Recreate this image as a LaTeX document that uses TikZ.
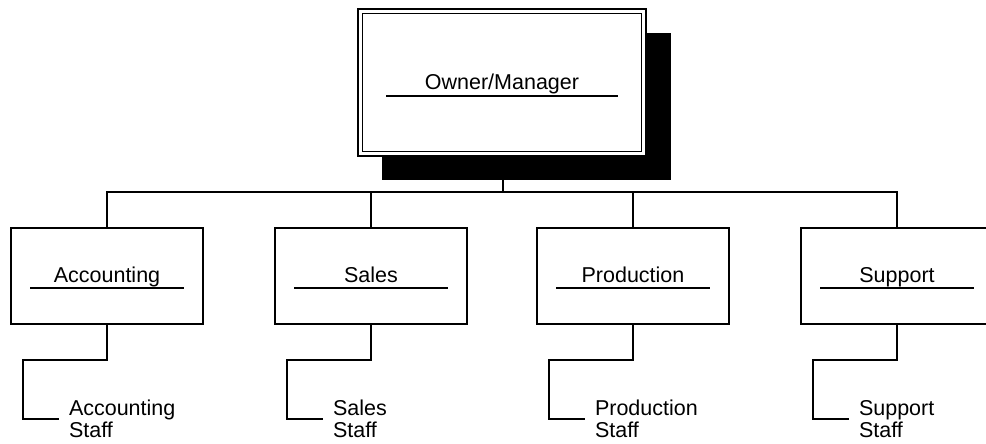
\documentclass[tikz,border=0pt]{standalone}
\usepackage{fontspec}
\setmainfont{Liberation Sans}
\begin{document}
\begin{tikzpicture}[x=1pt,y=-1pt,
  every node/.style={inner sep=0pt,outer sep=0pt},
  wire/.style={line width=1.4pt,line join=miter},
  deptbox/.style={draw,line width=1.4pt,minimum width=192pt,minimum height=96pt},
  label/.style={font=\fontsize{21.5}{22}\selectfont,anchor=base},
  stafftext/.style={font=\fontsize{21.5}{21.5}\selectfont,anchor=base west,align=left}]
\useasboundingbox (0,0) rectangle (986,444);

% Owner/Manager: shadow, double frame, caption
\node[fill=black,minimum width=289pt,minimum height=147pt] (shadow) at (526.5,106.5) {};
\node[fill=white,draw,line width=1.4pt,minimum width=288pt,minimum height=147pt] (owner) at (502,82.5) {};
\draw[line width=1.4pt] ([xshift=4.5pt,yshift=-4.5pt]owner.north west) rectangle ([xshift=-4.5pt,yshift=4.5pt]owner.south east);
\node[label] (ownertxt) at (502,89) {Owner/Manager};
\draw[wire] (386,96) -- (618,96);

% departments
\foreach \n/\x/\t in {acc/107/Accounting, sal/371/Sales, pro/633/Production, sup/897/Support}{
  \node[deptbox] (\n) at (\x,276) {};
  \node[label] (\n txt) at (\x,282.5) {\t};
  \draw[wire] (\x-77,288) -- (\x+77,288);
}

% reporting bus
\coordinate (bus) at (503,192);
\draw[wire] (shadow.south -| bus) -- (bus);
\draw[wire] (acc.north) |- (bus) -| (sup.north);
\draw[wire] (sal.north) -- (sal.north |- bus);
\draw[wire] (pro.north) -- (pro.north |- bus);

% staff under each department (base anchor sits on the last line)
\foreach \n/\x/\t in {acc/107/Accounting, sal/371/Sales, pro/633/Production, sup/897/Support}{
  \node[stafftext] (\n st) at (\x-38,437) {\t\\Staff};
  \coordinate (\n end) at (\x-48,419);
  \draw[wire] (\n.south) -- ++(0,36) -| ([xshift=-36pt]\n end) -- (\n end);
}
\end{tikzpicture}
\end{document}
